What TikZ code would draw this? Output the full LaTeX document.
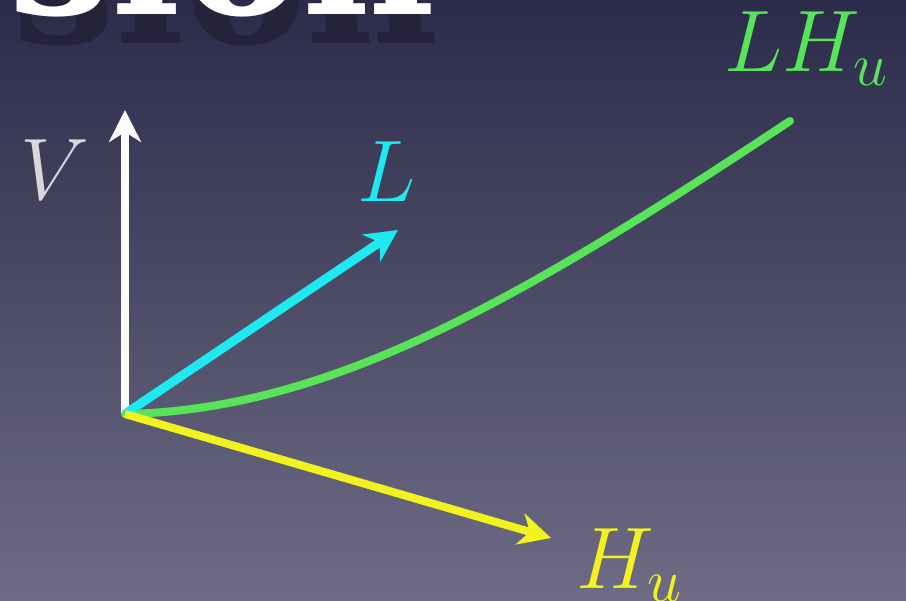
\documentclass[tikz,border=0pt]{standalone}
\usepackage{amsmath}
\usepackage{fontspec}
\newfontfamily\slabfont{DejaVu Serif}
\usetikzlibrary{arrows.meta}
\definecolor{bgtop}{RGB}{44,43,74}
\definecolor{bgbot}{RGB}{110,108,132}
\definecolor{vcolor}{RGB}{252,252,252}
\definecolor{vlabcolor}{RGB}{215,215,220}
\definecolor{lcolor}{RGB}{30,232,240}
\definecolor{hcolor}{RGB}{242,242,30}
\definecolor{lhcolor}{RGB}{88,228,88}
\definecolor{titleshade}{RGB}{36,35,58}

\begin{document}
\begin{tikzpicture}[x=0.1mm,y=-0.1mm,
  vec/.style={line width=0.8mm,-{Stealth[length=3.2mm,width=3.2mm,inset=1mm]}},
  lab/.style={anchor=base west,inner sep=0pt,font=\fontsize{25}{30}\selectfont},
  titlefont/.style={anchor=base west,inner sep=0pt,font=\slabfont\bfseries\fontsize{52}{60}\selectfont}]
  % ---- background
  \useasboundingbox (0,0) rectangle (906,600);
  \fill[top color=bgtop,bottom color=bgbot] (0,0) rectangle (906,600);
  % ---- cut-off title
  \node[titlefont,text=titleshade] (titleshadow) at (12,44) {sion};
  \node[titlefont,text=white] (title) at (8,15) {sion};
  % ---- vectors
  \coordinate (O) at (125,414);
  \coordinate (vtip) at (125,110);
  \coordinate (ltip) at (398,230);
  \coordinate (htip) at (551,538);
  \coordinate (lhend) at (790,121);
  \draw[vec,vcolor] (O) -- (vtip);
  \draw[lhcolor,line width=0.8mm,line cap=round] (O) .. controls (330,410) and (520,300) .. (lhend);
  \draw[vec,lcolor,line width=0.9mm] (O) -- (ltip);
  \draw[vec,hcolor] (O) -- (htip);
  % ---- labels
  \node[lab,text=vlabcolor] (vlabel) at (20,200) {$V$};
  \node[lab,text=lcolor] (llabel) at (357,202) {$L$};
  \node[lab,text=hcolor] (hlabel) at (576,588) {$H_u$};
  \node[lab,text=lhcolor] (lhlabel) at (724,72) {$LH_u$};
\end{tikzpicture}
\end{document}
